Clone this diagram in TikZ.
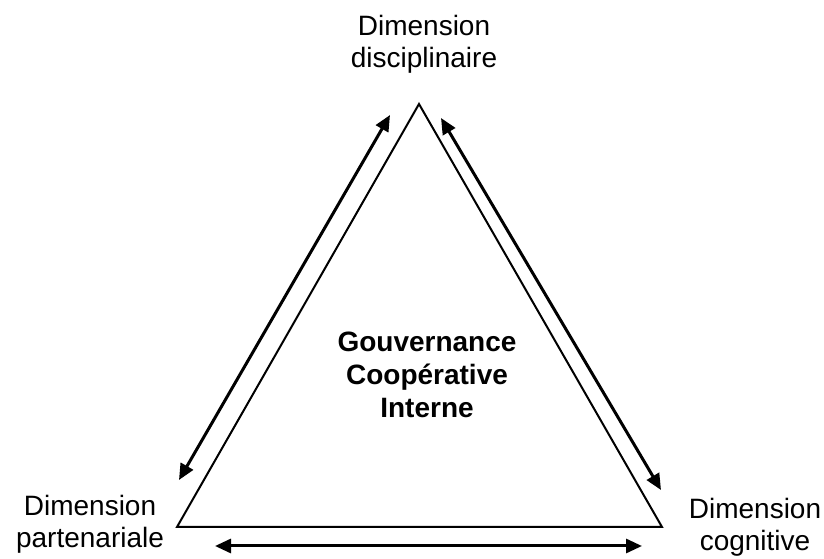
\documentclass[tikz,border=0pt]{standalone}
\usepackage{fontspec}
\setmainfont{Liberation Sans}
\usetikzlibrary{arrows.meta}

\tikzset{
  label/.style={align=center, inner sep=0pt, font=\fontsize{28}{32}\selectfont},
  side/.style={line width=2pt},
  link/.style={line width=3pt, {Triangle[length=16pt,width=14pt]}-{Triangle[length=16pt,width=14pt]}}
}

\begin{document}
\begin{tikzpicture}[x=1pt, y=1pt]
	\useasboundingbox (0, 0) rectangle (824, 559);

	% sommets du triangle
	\coordinate (top) at (419, 455);
	\coordinate (left) at (177, 32);
	\coordinate (right) at (662, 32);
	\draw[side, line join=miter] (top) -- (left) -- (right) -- cycle;

	% extrémités des flèches
	\coordinate (l1) at (390, 444);
	\coordinate (l2) at (179, 79);
	\coordinate (r1) at (441, 441);
	\coordinate (r2) at (661, 69);
	\coordinate (b1) at (215, 13);
	\coordinate (b2) at (642, 13);

	% flèches
	\draw[link] (l1) -- (l2);
	\draw[link] (r1) -- (r2);
	\draw[link] (b1) -- (b2);

	% textes
	\node[label] (disc) at (424, 514.5) {Dimension\\disciplinaire};
	\node[label] (part) at (90, 34.5) {Dimension\\partenariale};
	\node[label] (cogn) at (755, 32) {Dimension\\cognitive};
	\node[label, font=\fontsize{28}{33}\selectfont\bfseries] (gci) at (427, 184.5) {Gouvernance\\Coopérative\\Interne};
\end{tikzpicture}
\end{document}
